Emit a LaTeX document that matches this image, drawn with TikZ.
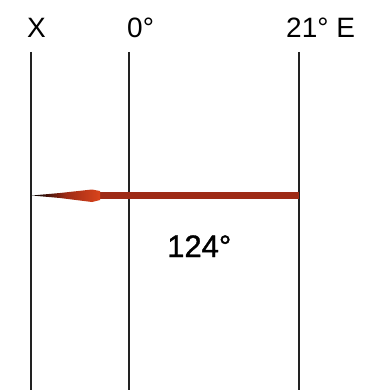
\documentclass[tikz,border=0pt]{standalone}
\usepackage{fontspec}
\setmainfont{Liberation Sans}
\newfontfamily\heavyfont[FakeBold=1.2]{Liberation Sans}
\definecolor{arrowbrown}{HTML}{9E2B16}
\definecolor{arrowred}{HTML}{D9441C}
\definecolor{linegray}{HTML}{222222}
\begin{document}
\begin{tikzpicture}[x=1pt,y=-1pt,
  meridian/.style={draw=linegray,line width=1.5pt},
  toplabel/.style={anchor=base west,inner sep=0pt,font=\fontsize{28}{30}\selectfont},
  anglelabel/.style={anchor=base west,inner sep=0pt,font=\heavyfont\fontsize{31}{34}\selectfont}]
\useasboundingbox[fill=white] (0,0) rectangle (367,390);
% labels
\node[toplabel] (lx) at (27,38) {X};
\node[toplabel] (l0) at (127,38) {0°};
\node[toplabel] (le) at (286,38) {21° E};
\node[anglelabel] (la) at (167,257) {124°};
% meridians
\coordinate (xt) at (31,52);  \coordinate (xb) at (31,390);
\coordinate (zt) at (129,52); \coordinate (zb) at (129,390);
\coordinate (et) at (299,52); \coordinate (eb) at (299,390);
\draw[meridian] (xt) -- (xb);
\draw[meridian] (zt) -- (zb);
\draw[meridian] (et) -- (eb);
% arrow
\coordinate (as) at (299,195.5);
\coordinate (ae) at (96,195.5);
\coordinate (tip) at (32,195.5);
\draw[arrowbrown,line width=7.5pt] (as) -- (ae);
\shade[left color=black,right color=arrowred,middle color=arrowbrown]
  (tip) -- (60,193) -- (92,189.5) -- (100,191) -- (100,200) -- (92,202) -- (60,198) -- cycle;
\end{tikzpicture}
\end{document}
